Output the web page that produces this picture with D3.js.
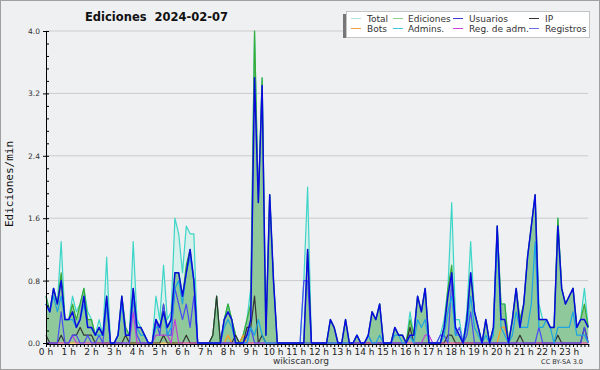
<!DOCTYPE html>
<html lang="es">
<head>
<meta charset="UTF-8">
<title>Ediciones 2024-02-07</title>
<script src="https://d3js.org/d3.v7.min.js"></script>
<style>
  body { margin: 0; background: #fff; }
  svg { display: block; font-family: "DejaVu Sans", sans-serif; }
</style>
</head>
<body>
<svg width="600" height="370"></svg>
<script>
// one value every 10 minutes (edits per minute), 144 points per series
const total = [
  0.6,0.4,0.7,0.5,1.3,0.3, 0.3,0.6,0.4,0.5,0.7,0.4,
  0.3,0.1,0.3,0.1,1.1,0, 0,0.1,0.6,0.2,0.1,1.3,
  0.3,0.2,0.1,0,0,0.6, 0.3,1.0,0.3,0.4,1.6,1.4,
  0.9,1.5,1.4,1.4,0,0, 0,0,0.1,0.6,0,0.3,
  0.5,0.3,0.1,0,0.1,0.3, 0.7,4.0,1.8,3.4,0.1,1.9,
  0.8,0,0,0,0,0, 0,0,0.8,2.0,0,0,
  0,0,0,0.3,0.2,0, 0,0.3,0,0,0.1,0,
  0,0.1,0.4,0.3,0.5,0, 0,0,0.2,0.1,0.1,0,
  0.4,0.1,0.6,0.4,0.7,0, 0,0,0.1,0.3,0.7,1.8,
  0.3,0.3,0,0.4,1.3,0.4, 0.2,0,0.3,0,0.2,1.5,
  0.5,0.5,0,0.3,0.7,0.3, 0.5,1.1,1.5,1.9,0.5,0.3,
  0.3,0.2,0.2,1.6,0.7,0.5, 0.6,0.7,0.2,0.3,0.7,0.2
];
const ediciones = [
  0.6,0.4,0.7,0.5,0.9,0.3, 0.3,0.5,0.3,0.5,0.7,0.3,
  0.3,0.1,0.2,0.1,0.6,0, 0,0.1,0.6,0.2,0.1,0.7,
  0.2,0.2,0.1,0,0,0.3, 0.2,0.5,0.2,0.3,0.9,0.9,
  0.6,1.0,1.2,0.8,0,0, 0,0,0.1,0.6,0,0.3,
  0.5,0.3,0.1,0,0.1,0.3, 0.5,4.0,1.8,3.4,0.1,1.9,
  0.8,0,0,0,0,0, 0,0,0,1.2,0,0,
  0,0,0,0.3,0.2,0, 0,0.3,0,0,0.1,0,
  0,0.1,0.4,0.3,0.5,0, 0,0,0.2,0.1,0.1,0,
  0.3,0.1,0.6,0.4,0.7,0, 0,0,0,0.2,0.7,1.0,
  0.2,0.1,0,0.3,0.9,0.4, 0.2,0,0.3,0,0.2,1.5,
  0.5,0.5,0,0.3,0.7,0.3, 0.5,1.1,1.5,1.9,0.3,0.3,
  0.3,0.2,0.2,1.6,0.7,0.5, 0.6,0.7,0.2,0.3,0.5,0.2
];
const usuarios = [
  0.5,0.4,0.7,0.5,0.8,0.3, 0.3,0.4,0.2,0.3,0.6,0.2,
  0.2,0.1,0.2,0.1,0.6,0, 0,0.1,0.6,0.1,0.1,0.7,
  0.2,0.2,0.1,0,0,0.3, 0.2,0.4,0.2,0.3,0.9,0.9,
  0.6,0.9,1.2,0.8,0,0, 0,0,0,0,0,0.3,
  0.4,0.3,0,0,0,0.1, 0.3,3.4,1.8,3.3,0.1,1.9,
  0.8,0,0,0,0,0, 0,0,0,1.2,0,0,
  0,0,0,0.3,0.2,0, 0,0.3,0,0,0.1,0,
  0,0.1,0.4,0.3,0.5,0, 0,0,0.2,0.1,0.1,0,
  0.1,0.1,0.6,0.4,0.7,0, 0,0,0,0.2,0.6,0.9,
  0.2,0.1,0,0.3,0.9,0.4, 0.2,0,0.3,0,0.2,1.5,
  0.3,0.3,0,0.3,0.7,0.2, 0.5,1.1,1.5,1.9,0.3,0.3,
  0.3,0.2,0.2,1.5,0.7,0.5, 0.6,0.7,0.2,0.3,0.3,0.2
];
const ip = [
  0.1,0,0,0,0.1,0, 0,0.1,0.1,0.2,0.1,0.1,
  0.1,0,0,0,0,0, 0,0,0,0.1,0,0,
  0,0,0,0,0,0, 0,0.1,0,0,0,0,
  0,0.1,0,0,0,0, 0,0,0.1,0.6,0,0,
  0,0,0.1,0,0,0.2, 0.2,0.6,0,0.1,0,0,
  0,0,0,0,0,0, 0,0,0,0,0,0,
  0,0,0,0,0,0, 0,0,0,0,0,0,
  0,0,0,0,0,0, 0,0,0,0,0,0,
  0.2,0,0,0,0,0, 0,0,0,0,0.1,0.1,
  0,0,0,0,0,0, 0,0,0,0,0,0,
  0,0,0,0,0,0.1, 0,0,0,0,0,0,
  0,0,0,0.1,0,0, 0,0,0,0,0.2,0
];
const bots = [
  0,0,0,0,0,0, 0,0,0,0,0,0,
  0,0,0,0,0,0, 0,0,0,0,0,0,
  0,0,0,0,0,0, 0,0,0,0,0,0,
  0,0,0,0,0,0, 0,0,0,0,0,0,
  0.1,0,0,0,0.1,0, 0,0,0,0,0,0,
  0,0,0,0,0,0, 0,0,0,0,0,0,
  0,0,0,0,0,0, 0,0,0,0,0,0,
  0,0,0,0,0,0, 0,0,0,0,0,0,
  0,0,0,0,0,0, 0,0,0,0,0,0,
  0,0,0,0,0,0, 0,0,0,0,0,0,
  0.2,0.2,0,0,0,0, 0,0,0,0,0,0,
  0,0,0,0,0,0, 0,0,0,0,0,0
];
const admins = [
  0.5,0.4,0.6,0.4,0.6,0.3, 0.3,0.3,0.2,0.3,0.5,0.2,
  0.2,0.1,0.1,0.1,0.5,0, 0,0.1,0.5,0.1,0.1,0.6,
  0.2,0.1,0.1,0,0,0.2, 0.2,0.4,0.1,0.2,0.7,0.8,
  0.5,0.9,1.1,0.8,0,0, 0,0,0,0,0,0.2,
  0.3,0.2,0,0,0,0, 0.2,0.1,0.3,0.1,0,0,
  0,0,0,0,0,0, 0,0,0,0,0,0,
  0,0,0,0,0,0, 0,0,0,0,0.1,0,
  0,0.1,0,0,0.1,0, 0,0,0.1,0.1,0,0,
  0.1,0,0.3,0.2,0.3,0, 0,0,0,0.1,0.4,0.6,
  0.1,0.1,0,0.2,0.6,0.2, 0.1,0,0.1,0,0.1,1.4,
  0.2,0.1,0,0.1,0.4,0.2, 0.2,0.2,0.5,1.3,0.2,0.2,
  0.3,0.2,0,0.2,0.2,0.2, 0.2,0.4,0.1,0.1,0.1,0
];
const regAdm = [
  0,0,0,0,0,0, 0,0.1,0,0,0,0,
  0,0,0,0,0,0, 0,0,0,0,0,0.4,
  0,0,0,0,0,0.1, 0.1,0.1,0.1,0,0.3,0,
  0,0,0,0,0,0, 0,0,0,0,0,0,
  0,0,0,0,0,0, 0,0,0,0,0,0,
  0,0,0,0,0,0, 0,0,0,0,0,0,
  0,0,0,0,0,0, 0,0,0,0,0,0,
  0,0,0,0,0,0, 0,0,0,0,0,0,
  0,0,0,0,0.1,0.1, 0,0,0,0,0,0,
  0,0,0,0,0,0, 0,0,0,0,0,0,
  0,0,0,0,0,0, 0,0,0,0,0,0,
  0,0,0,0,0,0, 0,0,0,0,0,0
];
const registros = [
  0,0,0,0,0.4,0, 0,0.1,0.1,0,0,0.1,
  0,0,0.1,0,0.5,0, 0,0,0,0,0,0.6,
  0.1,0,0,0,0,0.3, 0.1,0.5,0.1,0.1,0.7,0.5,
  0.3,0.5,0.2,0.6,0,0, 0,0,0,0,0,0,
  0,0,0,0,0,0, 0.2,0,0,0,0,0,
  0,0,0,0,0,0, 0,0,0.8,0.8,0,0,
  0,0,0,0,0,0, 0,0,0,0,0,0,
  0,0.1,0,0,0,0, 0,0,0,0,0,0,
  0.1,0,0,0,0,0, 0,0,0.1,0.1,0,0.8,
  0.1,0.2,0,0.1,0.4,0, 0,0,0,0,0,0,
  0,0,0,0,0,0, 0,0,0,0,0.2,0,
  0,0,0,0,0,0, 0,0,0,0,0.2,0
];

const hourLabels = d3.range(24).map(h => h + " h");
const yTicks = [0, 0.8, 1.6, 2.4, 3.2, 4.0];
const legendNames = ["Total", "Ediciones", "Usuarios", "IP", "Bots", "Admins.", "Reg. de adm.", "Registros"];
const legendColors = ["#aee3df", "#8fd08f", "#3a3ad8", "#333333", "#f5a040", "#40c8dc", "#cc44dd", "#7070e0"];

const svg = d3.select("svg");

const x = d3.scaleLinear().domain([0, 1440]).range([46, 592]);
const y = d3.scaleLinear().domain([0, 4]).range([343, 31]);
const px = (d, i) => x(i * 10);

// background + frame
svg.append("rect")
  .attr("x", 0.5).attr("y", 0.5)
  .attr("width", 599).attr("height", 369)
  .attr("fill", "#eff0f1")
  .attr("stroke", "#a0a0a0");

// grid
svg.append("g")
  .selectAll("line")
  .data(yTicks.filter(t => t > 0))
  .join("line")
  .attr("x1", x(0)).attr("x2", x(1430))
  .attr("y1", d => y(d)).attr("y2", d => y(d))
  .attr("stroke", "#cbcbcb");

// areas
const area = d3.area().x(px).y0(y(0)).y1(d => y(d));
svg.append("path").datum(total).attr("d", area).attr("fill", "#d8f0eb");
svg.append("path").datum(ediciones).attr("d", area).attr("fill", "#8fc99b");

// lines
const line = d3.line().x(px).y(d => y(d));
const series = [
  { values: total, color: "#3dd5c8", w: 1.2 },
  { values: ediciones, color: "#38ab35", w: 1.2 },
  { values: bots, color: "#ff9a1a", w: 1.2 },
  { values: ip, color: "#333333", w: 1.2 },
  { values: regAdm, color: "#c040d8", w: 1.2 },
  { values: registros, color: "#4a4af5", w: 1.2 },
  { values: admins, color: "#1ca4e4", w: 1.2 },
  { values: usuarios, color: "#0a0adf", w: 1.5 }
];
svg.append("g")
  .attr("fill", "none")
  .attr("stroke-linejoin", "round")
  .selectAll("path")
  .data(series)
  .join("path")
  .attr("d", d => line(d.values))
  .attr("stroke", d => d.color)
  .attr("stroke-width", d => d.w);

// x axis: a tick every 10 minutes, label every hour
const xAxis = svg.append("g")
  .attr("transform", "translate(0,344)")
  .call(d3.axisBottom(x).tickValues(d3.range(0, 1440, 10)).tickSize(3).tickSizeOuter(0).tickFormat(""));
xAxis.select(".domain").attr("d", `M${x(0)},0.5H${x(1430) + 1}`);
svg.append("g")
  .attr("font-size", 9)
  .attr("fill", "#222")
  .attr("text-anchor", "middle")
  .selectAll("text")
  .data(hourLabels)
  .join("text")
  .attr("x", (d, i) => x(i * 60))
  .attr("y", 355)
  .text(d => d);

// y axis
const yAxis = svg.append("g")
  .attr("transform", "translate(46,0)")
  .call(d3.axisLeft(y).tickValues(yTicks).tickSize(3).tickSizeOuter(0).tickFormat(d3.format(".1f")));
yAxis.selectAll("text").attr("font-size", 7.5).attr("fill", "#333").attr("font-family", "DejaVu Sans");
svg.append("g")
  .attr("transform", "translate(46,0)")
  .call(d3.axisRight(y).tickValues(d3.range(0, 4.01, 0.16)).tickSize(3).tickFormat(""))
  .select(".domain").remove();

// titles
svg.append("text")
  .attr("x", 85).attr("y", 21)
  .attr("font-weight", "bold")
  .attr("font-size", 11.5)
  .attr("fill", "#111")
  .style("white-space", "pre")
  .text("Ediciones  2024-02-07");

svg.append("text")
  .attr("transform", "translate(13,184) rotate(-90)")
  .attr("text-anchor", "middle")
  .attr("font-family", "DejaVu Sans Mono")
  .attr("font-size", 11)
  .attr("fill", "#111")
  .text("Ediciones/min");

svg.append("text")
  .attr("x", 301).attr("y", 364)
  .attr("text-anchor", "middle")
  .attr("font-size", 9)
  .attr("fill", "#333")
  .text("wikiscan.org");

svg.append("text")
  .attr("x", 583).attr("y", 364)
  .attr("text-anchor", "end")
  .attr("font-size", 6.5)
  .attr("fill", "#333")
  .text("CC BY-SA 3.0");

// legend
const legend = svg.append("g");
legend.append("rect")
  .attr("x", 343).attr("y", 14).attr("width", 6).attr("height", 24)
  .attr("fill", "#777");
legend.append("rect")
  .attr("x", 346.5).attr("y", 11.5).attr("width", 243).attr("height", 26)
  .attr("fill", "#fff").attr("stroke", "#c4c4c4");
const colX = [351, 393, 453, 529];
const textX = [367, 408, 469, 545];
const item = legend.selectAll("g.item")
  .data(legendNames)
  .join("g")
  .attr("class", "item")
  .attr("transform", (d, i) => `translate(0,${i < 4 ? 18.5 : 28.5})`);
item.append("line")
  .attr("x1", (d, i) => colX[i % 4]).attr("x2", (d, i) => colX[i % 4] + 10)
  .attr("stroke", (d, i) => legendColors[i]);
item.append("text")
  .attr("x", (d, i) => textX[i % 4])
  .attr("y", 3.3)
  .attr("font-size", 9)
  .attr("fill", "#333")
  .text(d => d);
</script>
</body>
</html>
